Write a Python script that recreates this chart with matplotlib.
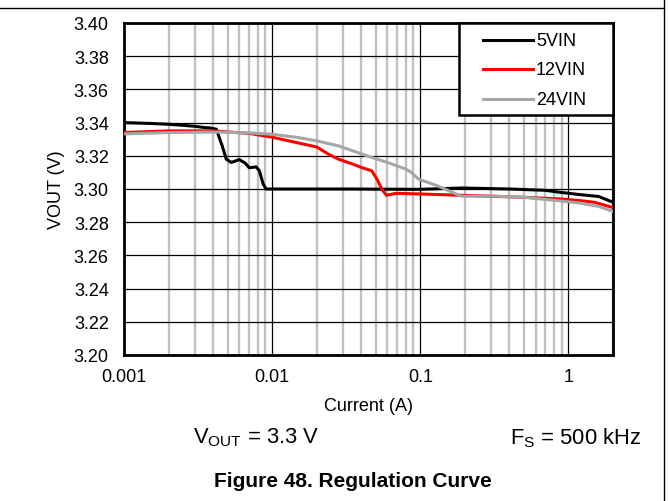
import numpy as np
import matplotlib
matplotlib.use("Agg")
import matplotlib.pyplot as plt
from matplotlib.lines import Line2D
from matplotlib.patches import Rectangle
from matplotlib.ticker import LogLocator, FixedLocator, NullFormatter

plt.rcParams['font.family'] = ['Liberation Sans', 'DejaVu Sans']

# values
cur_5v = [0.001, 0.0015, 0.002, 0.003, 0.0035, 0.0038, 0.0042, 0.0046, 0.0049,
          0.0053, 0.006, 0.0066, 0.007, 0.0078, 0.0082, 0.0087, 0.0091, 0.01,
          0.03, 0.1, 0.19, 0.4, 0.7, 0.88, 1.2, 1.6, 2.0]
vout_5v = [3.340, 3.3395, 3.339, 3.3378, 3.337, 3.3368, 3.336, 3.326, 3.318,
           3.316, 3.3177, 3.3155, 3.3128, 3.3133, 3.311, 3.303, 3.300, 3.300,
           3.300, 3.2998, 3.3006, 3.300, 3.2992, 3.298, 3.2966, 3.2955, 3.292]

cur_12v = [0.001, 0.002, 0.004, 0.007, 0.01, 0.02, 0.024, 0.028, 0.035, 0.04,
           0.047, 0.051, 0.055, 0.059, 0.065, 0.07, 0.1, 0.19, 0.5, 0.88, 1.2,
           1.5, 2.0]
vout_12v = [3.334, 3.335, 3.335, 3.3335, 3.3312, 3.3253, 3.321, 3.318, 3.315,
            3.313, 3.311, 3.306, 3.300, 3.2962, 3.297, 3.2974, 3.297, 3.2962,
            3.295, 3.294, 3.293, 3.292, 3.2888]

cur_24v = [0.001, 0.002, 0.004, 0.007, 0.01, 0.015, 0.02, 0.028, 0.035, 0.047,
           0.06, 0.08, 0.087, 0.097, 0.13, 0.19, 0.3, 0.5, 0.88, 1.2, 1.6, 2.0]
vout_24v = [3.3332, 3.334, 3.3343, 3.3338, 3.333, 3.331, 3.329, 3.326, 3.323,
            3.319, 3.316, 3.312, 3.310, 3.306, 3.302, 3.2956, 3.2958, 3.295,
            3.2928, 3.2915, 3.2895, 3.2865]

series_labels = ['5VIN', '12VIN', '24VIN']
series_colors = ['#000000', '#ff0000', '#a6a6a6']

W, H = 668, 502
fig = plt.figure(figsize=(W / 100, H / 100), dpi=100)
ax_l, ax_r, ax_t, ax_b = 124, 613, 24, 356
ax = fig.add_axes([ax_l / W, 1 - ax_b / H, (ax_r - ax_l) / W, (ax_b - ax_t) / H])

ax.set_xscale('log')
ax.set_xlim(0.001, 2)
ax.set_ylim(3.20, 3.40)
yt = np.arange(3.20, 3.401, 0.02)
ax.set_yticks(yt)
ax.set_yticklabels([f"{v:.2f}" for v in yt])
ax.xaxis.set_major_locator(FixedLocator([0.001, 0.01, 0.1, 1]))
ax.set_xticklabels(['0.001', '0.01', '0.1', '1'])
ax.xaxis.set_minor_locator(LogLocator(base=10, subs=np.arange(2, 10)))
ax.xaxis.set_minor_formatter(NullFormatter())

ax.grid(True, which='major', axis='both', color='black', linewidth=0.9, zorder=1)
ax.grid(True, which='minor', axis='x', color='#c0c0c0', linewidth=1.7, zorder=0)
ax.tick_params(which='both', length=0, labelsize=13)
ax.tick_params(axis='y', pad=11)
ax.tick_params(axis='x', pad=9)
for s in ax.spines.values():
    s.set_linewidth(2)

for xs, ys, c, lab in zip([cur_5v, cur_12v, cur_24v], [vout_5v, vout_12v, vout_24v],
                          series_colors, series_labels):
    ax.plot(xs, ys, color=c, linewidth=2.2, label=lab, zorder=3)

# legend box drawn by hand to match the spacing of the original
def afx(px):
    return (px - ax_l) / (ax_r - ax_l)

def afy(py):
    return (ax_b - py) / (ax_b - ax_t)

ax.add_patch(Rectangle((afx(459), afy(116)), afx(613) - afx(459), afy(24) - afy(116),
                       transform=ax.transAxes, facecolor='white', edgecolor='black',
                       linewidth=1.8, zorder=5, clip_on=False))
for row_y, c, lab in zip([41, 70, 100], series_colors, series_labels):
    ax.add_line(Line2D([afx(483), afx(533)], [afy(row_y), afy(row_y)], color=c,
                       linewidth=2.2, transform=ax.transAxes, zorder=6))
    ax.text(afx(536), afy(row_y), lab, transform=ax.transAxes, fontsize=13,
            va='center', ha='left', zorder=6)

ax.set_xlabel('Current (A)', fontsize=13, labelpad=9)
ax.set_ylabel('VOUT (V)', fontsize=13, labelpad=6)

fig.text(193 / W, 1 - 438 / H, r'V$_{\mathregular{OUT}}$ = 3.3 V', fontsize=15.8,
         va='center', ha='left')
fig.text(641 / W, 1 - 438 / H, r'F$_{\mathregular{S}}$ = 500 kHz', fontsize=15.8,
         va='center', ha='right')
fig.text(352.5 / W, 1 - 482 / H, 'Figure 48. Regulation Curve', fontsize=15,
         fontweight='bold', va='center', ha='center')

# page frame lines
fig.add_artist(Line2D([0, 664 / W], [1 - 9 / H, 1 - 9 / H], color='black',
                      linewidth=1, transform=fig.transFigure))
fig.add_artist(Line2D([664 / W, 664 / W], [0, 1], color='black',
                      linewidth=1, transform=fig.transFigure))

fig.savefig('out.png', dpi=100)
